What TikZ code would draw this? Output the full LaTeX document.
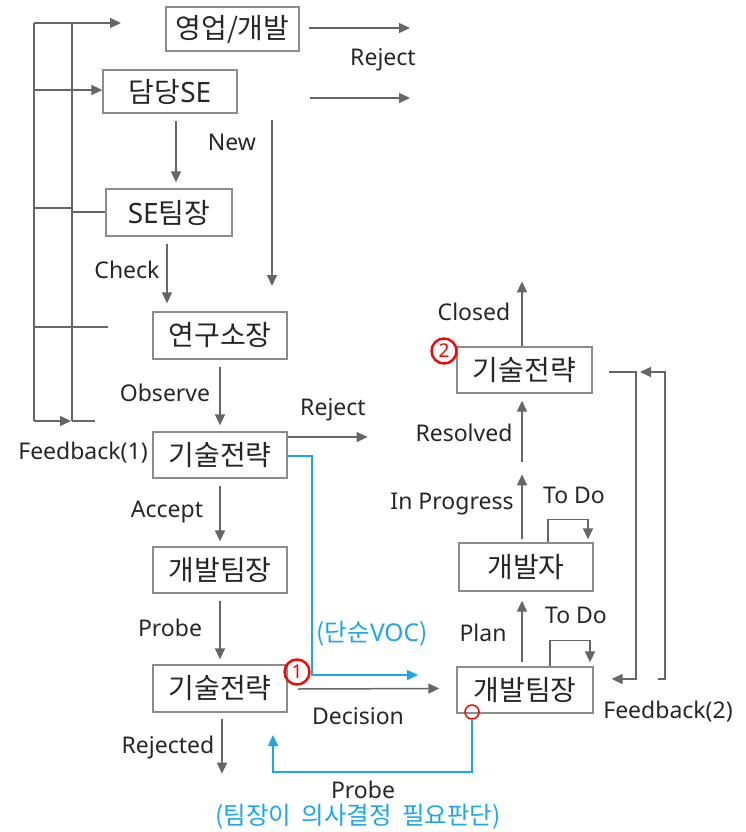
\documentclass[tikz,border=0pt]{standalone}
\usepackage{fontspec}
\setmainfont{Noto Sans}
\newfontfamily\kr{Noto Sans CJK KR}
\usetikzlibrary{arrows.meta,calc}
\definecolor{lg}{HTML}{666666}
\definecolor{bx}{HTML}{8C8C8C}
\definecolor{sky}{HTML}{1CA5F0}
\definecolor{txt}{HTML}{262626}
\begin{document}
\begin{tikzpicture}[x=1pt,y=-1pt,
 box/.style={draw=bx,line width=1.3pt,inner sep=0pt,minimum height=46pt,text=txt,font=\kr\fontsize{28}{32}\selectfont},
 lbl/.style={font=\fontsize{23}{27}\selectfont,text=txt,inner sep=0pt},
 blbl/.style={font=\kr\fontsize{24.5}{28}\selectfont,text=sky,inner sep=0pt},
 ln/.style={draw=lg,line width=1.5pt},
 arr/.style={ln,-{Triangle[length=11pt,width=10pt]}},
 bl/.style={draw=sky,line width=1.5pt},
 barr/.style={bl,-{Triangle[length=11pt,width=10pt]}},
 num/.style={circle,draw=red,line width=2.4pt,inner sep=0pt,minimum size=25pt,text=red,font=\bfseries\fontsize{19}{19}\selectfont}
 ]
\useasboundingbox (0,0) rectangle (745,832);

% boxes
\node[box,minimum width=133pt,minimum height=44pt] (yb) at (232.5,29) {영업/개발};
\node[box,minimum width=134pt,minimum height=43pt] (dse) at (170,91.5) {담당\fontspec{Noto Sans}SE};
\node[box,minimum width=126pt,minimum height=47pt] (setj) at (169,212.5) {\fontspec{Noto Sans}SE\kr 팀장};
\node[box,minimum width=134pt,minimum height=47pt] (ygs) at (220,335.5) {연구소장};
\node[box,minimum width=134pt] (gs1) at (220,455) {기술전략};
\node[box,minimum width=134pt] (gbt1) at (220,570) {개발팀장};
\node[box,minimum width=134pt,minimum height=47pt] (gs3) at (220,688.5) {기술전략};
\node[box,minimum width=136pt] (gbt2) at (525,690) {개발팀장};
\node[box,minimum width=134pt,minimum height=48pt] (gbj) at (526,567) {개발자};
\node[box,minimum width=135pt] (gs2) at (524.5,370) {기술전략};

% left feedback structure
\coordinate (o1) at (34,23);
\coordinate (o2) at (34,90);
\coordinate (o3) at (34,208);
\coordinate (o4) at (34,327);
\coordinate (o5) at (34,421);
\coordinate (i1) at (72,23);
\coordinate (i2) at (72,90);
\coordinate (i3) at (72,208);
\coordinate (i4) at (72,327);
\coordinate (i5) at (72,421);
\draw[ln] (o1) -- (o5);
\draw[ln] (i1) -- (i5);
\draw[ln] (o1) -- (i1);
\draw[ln] (o2) -- (i2);
\draw[ln] (o3) -- (i3);
\draw[ln] (o4) -- (i4);
\draw[arr] (o5) -- ($(i5)+(-1,0)$);
\draw[ln] (i5) -- ++(23,0);
\draw[arr] (i1) -- ++(49,0);
\draw[arr] (i2) -- (i2 -| dse.west);
\draw[ln] ($(i3)+(0,4)$) -- ($(i3 -| setj.west)+(0,4)$);
\draw[ln] (i4) -- ++(36,0);

% top reject arrows
\coordinate (r1) at (309,28);
\coordinate (r2) at (310,98);
\draw[arr] (r1) -- ++(101,0);
\draw[arr] (r2) -- ++(100,0);
\node[lbl] (lrej1) at (383,60) {Reject};

% vertical flow left
\draw[arr] ([xshift=6pt,yshift=-7pt]dse.south) -- ([xshift=6pt,yshift=6pt]dse.south |- setj.north);
\coordinate (nw) at (272,120);
\draw[arr] (nw) -- (272,286);
\node[lbl] (lnew) at (232,142) {New};
\draw[arr] ([xshift=-2pt,yshift=-7pt]setj.south) -- ([xshift=-2pt,yshift=8pt]setj.south |- ygs.north);
\node[lbl] (lchk) at (127,270) {Check};
\draw[arr] ([yshift=-7pt]ygs.south) -- ([yshift=6pt]gs1.north);
\node[lbl] (lobs) at (165,393) {Observe};
\draw[arr] ([yshift=-7pt]gs1.south) -- ([yshift=5pt]gbt1.north);
\node[lbl] (lacc) at (167,512) {Accept};
\draw[arr] ([yshift=-7pt]gbt1.south) -- ([yshift=5pt]gs3.north);
\node[lbl] (lprb) at (170,628) {Probe};
\draw[arr] ([xshift=2pt,yshift=-6pt]gs3.south) -- ++(0,55);
\node[lbl] (lrjd) at (168,748) {Rejected};
\node[lbl] (lfb1) at (83,453) {Feedback(1)};

% reject from gs1
\draw[arr] ([yshift=18pt]gs1.east) -- ++(80,0);
\node[lbl] (lrej2) at (333,410) {Reject};

% blue simple VOC
\draw[barr] ([yshift=-1pt]gs1.east) -- (312,456) -- (312,675) -- (418,675);
\node[blbl] (lvoc) at (372,634) {(단순\fontspec{Noto Sans}VOC\kr)};

% decision
\draw[arr] (298,689) -- ([xshift=-17pt]gs3.east -| gbt2.west);
\node[lbl] (ldec) at (358,716) {Decision};

% blue probe
\node[circle,draw=red,line width=1.5pt,minimum size=14pt,inner sep=0pt] (rc) at (472,712) {};
\draw[barr] (472,719) -- (472,772) -- (273,772) -- (273,735);
\node[lbl] (lprb2) at (363,790) {Probe};
\node[blbl] (lteam) at (358,817) {(팀장이\hspace{5pt} 의사결정\hspace{5pt} 필요판단)};

% right column
\draw[arr] ([xshift=-3pt,yshift=4pt]gbt2.north) -- ([xshift=-4pt,yshift=-9pt]gbj.south);
\node[lbl] (lplan) at (483,633) {Plan};
\draw[arr] ([xshift=25pt]gbt2.north) -- ++(0,-26) -- ++(40,0) -- ++(0,22);
\node[lbl] (ltd1) at (576,615) {To Do};
\draw[arr] ([xshift=22pt]gbj.north) -- ++(0,-23) -- ++(40,0) -- ++(0,20);
\node[lbl] (ltd2) at (574,495) {To Do};
\draw[arr] ([xshift=-4pt,yshift=3pt]gbj.north) -- ++(0,-65);
\node[lbl] (linp) at (452,504) {In Progress};
\draw[arr] (522,462) -- ([xshift=-2.5pt,yshift=-7pt]gs2.south);
\node[lbl] (lres) at (464,433) {Resolved};
\draw[arr] ([xshift=-2.5pt]gs2.north) -- ++(0,-65);
\node[lbl] (lcls) at (474,312) {Closed};

% feedback 2
\draw[arr] ([xshift=16pt,yshift=-2pt]gs2.east) -- (636,372) -- (636,679) -- ([xshift=18pt]gbt2.east |- 0,679);
\draw[arr] (658,679) -- (665,679) -- (665,372) -- (640,372);
\node[lbl] (lfb2) at (668,712) {Feedback(2)};

% numbers
\node[num] (n1) at (297,672) {1};
\node[num] (n2) at (444,351) {2};
\end{tikzpicture}
\end{document}
